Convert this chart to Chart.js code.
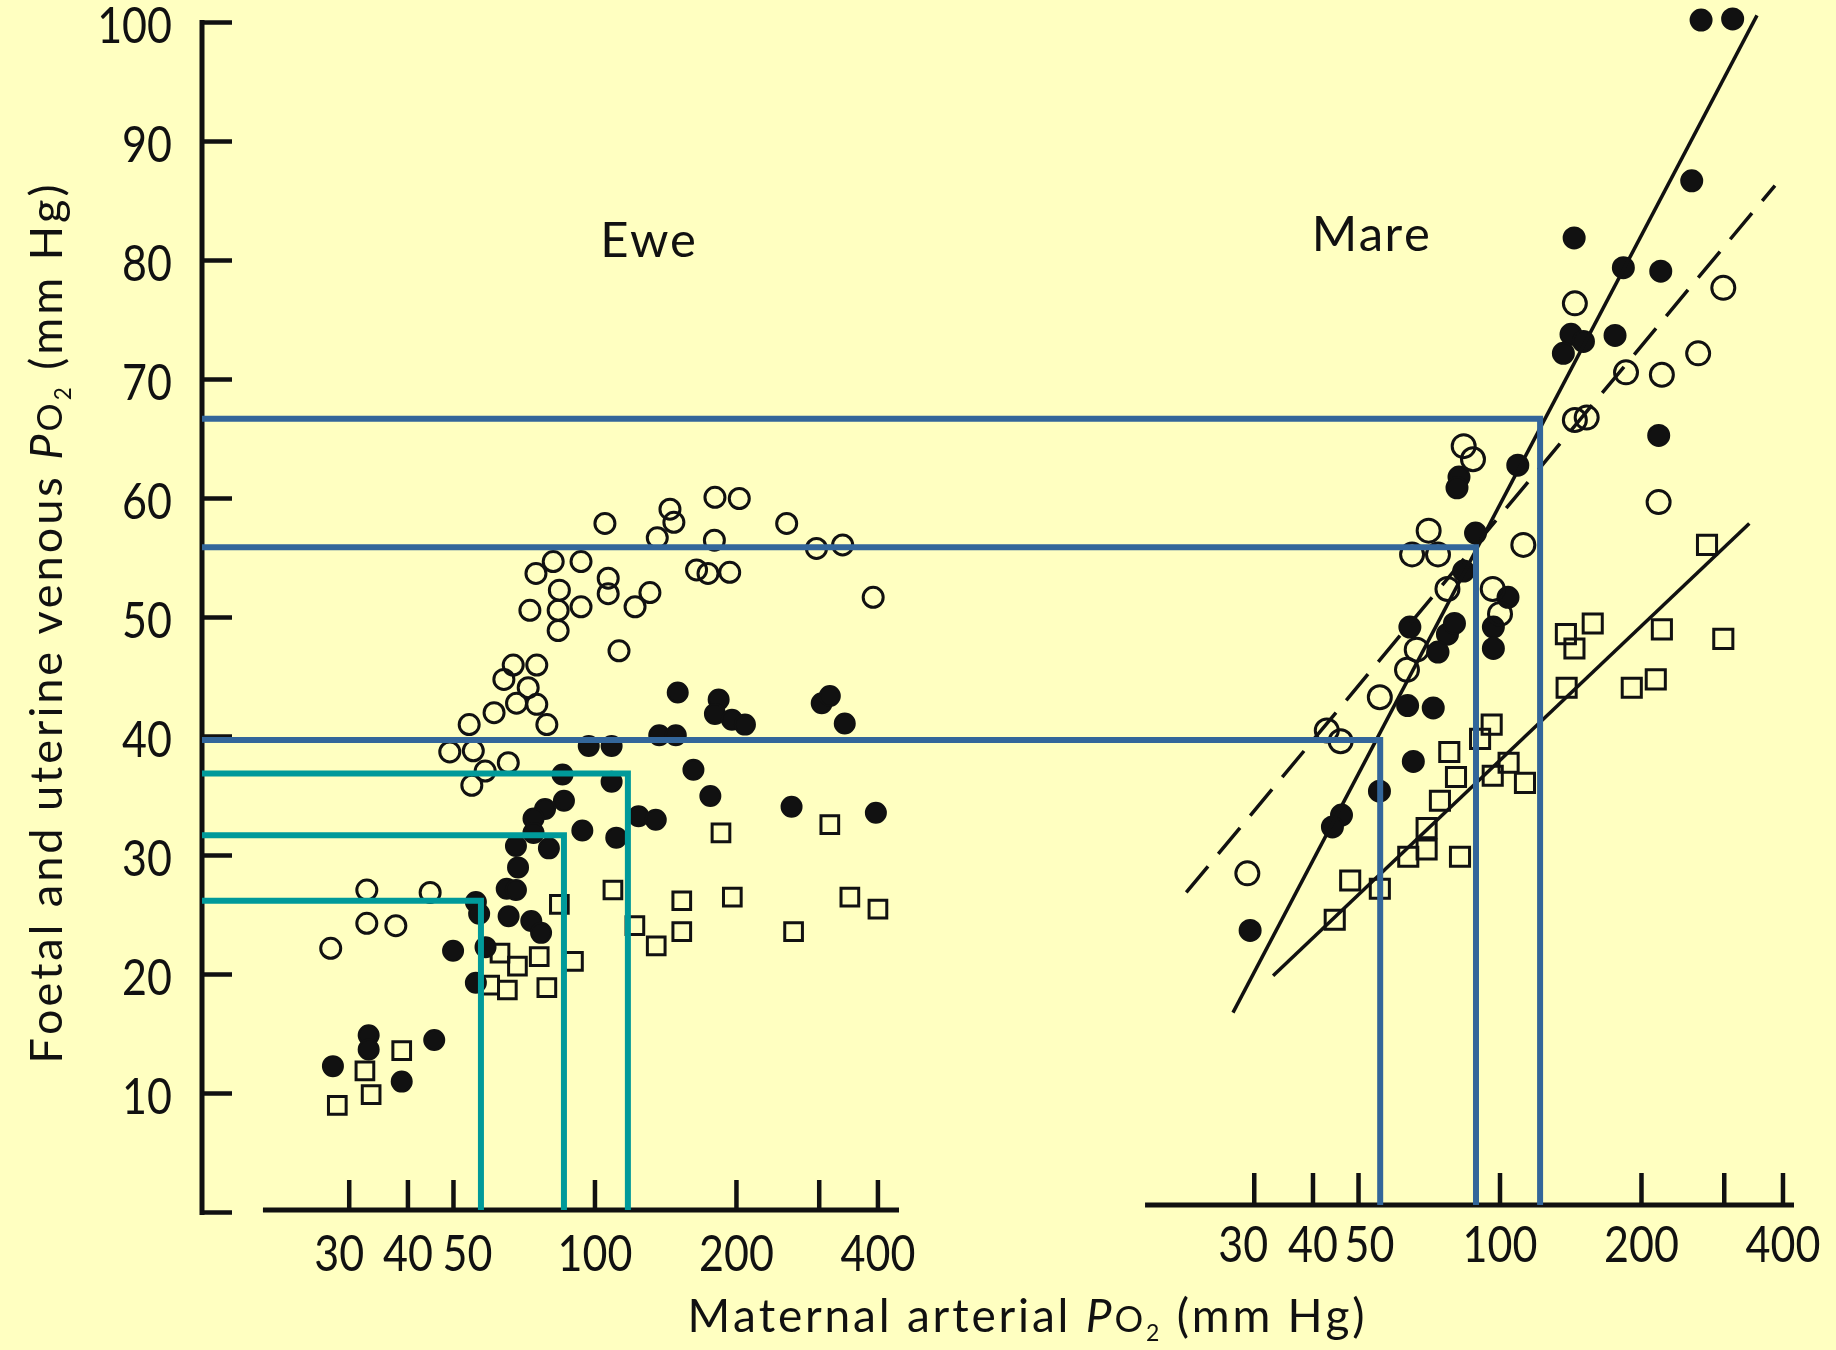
<!DOCTYPE html>
<html>
<head>
<meta charset="utf-8">
<script src="https://cdn.jsdelivr.net/npm/chart.js@4.4.1/dist/chart.umd.min.js"></script>
<style>
  html, body { margin: 0; padding: 0; background: #FFFFC1; }
  #wrap { width: 1836px; height: 1350px; }
  canvas { display: block; }
</style>
</head>
<body>
<div id="wrap"><canvas id="c" width="1836" height="1350"></canvas></div>
<script>
// ---------------- data ----------------
const yTickValues = [0, 10, 20, 30, 40, 50, 60, 70, 80, 90, 100];
const yTickLabels = ['', '10', '20', '30', '40', '50', '60', '70', '80', '90', '100'];
const xTickValues = [30, 40, 50, 100, 200, 300, 400];
const xTickLabels = ['30', '40', '50', '100', '200', '', '400'];

const panelTitles = ['Ewe', 'Mare'];
const xTitle = [['Maternal arterial ', 'n'], ['P', 'i'], ['O', 'o'], ['2', 'sub'], [' (mm Hg)', 'n']];
const yTitle = [['Foetal and uterine venous ', 'n'], ['P', 'i'], ['O', 'o'], ['2', 'sub'], [' (mm Hg)', 'n']];

// Ewe: open circles
const eweOpen = [
  [81.5,54.7],[93.4,54.7],[74.9,53.7],[84.0,52.3],[72.7,50.6],[83.5,50.6],[93.4,50.9],[83.5,48.9],
  [67.0,46.0],[75.2,46.0],[64.0,44.8],[72.1,44.1],[68.1,42.8],[75.2,42.7],[61.0,42.0],[54.0,41.0],
  [79.0,41.0],[49.1,38.7],[55.1,38.8],[65.4,37.8],[58.4,37.1],[54.7,35.9],
  [105,57.9],[144.4,59.1],[147.2,58.0],[135.7,56.7],[180,60.1],[202.8,60.0],[255.8,57.9],[179.5,56.5],
  [296,55.8],[336.5,56.1],[164.5,54.0],[174,53.7],[193.5,53.8],[106.7,53.3],[106.7,52.0],[130.9,52.1],
  [121.7,50.9],[390.8,51.7],[112.5,47.2],
  [32.7,27.1],[44.6,26.9],[32.7,24.3],[37.7,24.1],[27.4,22.2]
];
// Ewe: filled circles
const eweFilled = [
  [150,43.7],[183.3,43.1],[180,41.9],[195.6,41.4],[208.5,41.0],[303.7,42.8],[316,43.4],[340,41.1],
  [137,40.1],[148.6,40.1],[97,39.2],[108.5,39.2],[162,37.2],[85.3,36.8],[108.5,36.2],[176,35.0],
  [85.9,34.6],[78.3,33.9],[74,33.1],[123.8,33.3],[134.7,33.0],[262,34.1],[396,33.6],[94,32.1],
  [111,31.5],[74,31.9],[67.9,30.8],[79.8,30.6],[68.6,29.0],[64.9,27.2],[67.9,27.1],[55.8,26.1],
  [56.7,25.1],[65.5,24.9],[73.2,24.5],[76.8,23.5],[49.9,22.0],[58.5,22.3],[55.8,19.3],
  [33,14.9],[33,13.7],[27.7,12.3],[45.5,14.5],[38.8,11.0]
];
// Ewe: open squares
const eweSquares = [
  [185.4,31.9],[316,32.6],[400,25.5],[348.6,26.5],[264.6,23.6],[196,26.5],[153,26.2],[153,23.6],
  [135,22.4],[121.6,24.1],[109.2,27.1],[84,25.9],[90,21.1],[76.1,21.5],[68.4,20.7],[62.8,21.8],
  [59.7,19.1],[65.1,18.7],[79.0,18.9],[38.8,13.6],[32.4,11.9],[33.4,9.9],[28.3,9.0]
];
// Mare: filled circles
const mareFilled = [
  [267.8,100.2],[312.6,100.3],[255.8,86.7],[143.8,81.9],[183,79.4],[219.8,79.1],[141.6,73.8],
  [150.5,73.2],[136.4,72.2],[175.7,73.7],[217.6,65.3],[109.1,62.8],[81.8,61.8],[81.0,60.9],
  [88.7,57.1],[83.7,53.9],[104,51.7],[96.8,49.2],[96.8,47.4],[64.3,49.2],[77.3,48.6],[73.8,47.1],
  [80,49.5],[63.6,42.6],[72.1,42.4],[65.4,37.9],[55.4,35.4],[46,33.4],[44,32.4],[29.4,23.7]
];
// Mare: open circles
const mareOpen = [
  [144.3,76.4],[298.6,77.7],[264,72.2],[185.4,70.6],[221,70.4],[144.3,66.6],[152.9,66.8],[217.5,59.7],
  [112.1,56.1],[96.5,52.4],[100,50.3],[83.7,64.4],[87.6,63.3],[70.5,57.3],[65.0,55.3],[73.8,55.3],
  [77.3,52.4],[66.5,47.3],[63.4,45.6],[55.5,43.3],[42.8,40.5],[45.8,39.6],[29.0,28.5]
];
// Mare: open squares
const mareSquares = [
  [275.7,56.1],[221,49.0],[298.6,48.2],[138.1,48.6],[157.5,49.5],[144,47.4],[138.6,44.1],[190.7,44.1],
  [214.5,44.8],[96,41.0],[90.7,39.8],[78,38.7],[80.6,36.6],[96.5,36.7],[104.3,37.8],[113,36.1],
  [74.5,34.6],[69.8,32.3],[69.8,30.5],[63.8,29.9],[82.2,29.9],[48,27.9],[55.5,27.2],[44.5,24.6]
];
// Mare regression lines
const mareFilledFit = [[27.03,16.8],[352.2,100.6]];
const mareOpenFit = [[21.5,26.9],[384.6,86.3]];
const mareSquareFit = [[32.9,19.9],[339.2,57.9]];

// Guide lines (blue: mare panel, teal: ewe panel)
const blueGuideY = [66.7, 55.9, 39.7];
const blueGuideX = [121.7, 88.9, 55.6];
const tealGuideY = [36.9, 31.7, 26.2];
const tealGuideX = [117.5, 85.9, 57.2];

// ---------------- scale / style constants ----------------
const EWE_MIN = 14.585, EWE_MAX = 36636;
const MARE_MIN = 0.17309, MARE_MAX = 434.8;
const Y_MIN = 0, Y_MAX = 101.5;
const EWE_AXIS = { from: 19.66, to: 443.5, y: 0.21 };
const MARE_AXIS = { from: 17.57, to: 422.2, y: 0.63 };
const EWE_TITLE_POS = { x: 129.7, y: 80.3 };
const MARE_TITLE_POS = { x: 53.1, y: 80.8 };

const INK = '#111111';
const BG = '#FFFFC1';
const BLUE = '#33669A';
const TEAL = '#009A9A';
const FONT = 'Lato';
const TICK_FONT_PX = 50, TICK_SCALE_X = 0.86;
const Y_LABEL_DY = 4;
const EWE_NUDGE = { 30: -10, 50: 14 };
const MARE_NUDGE = { 30: -11, 50: 11 };

const pts = arr => arr.map(([x, y]) => ({ x, y }));

function scatterSet(data, xAxisID, style, radius, bw, filled) {
  return {
    type: 'scatter', data: pts(data), xAxisID, yAxisID: 'y', order: 2,
    pointStyle: style, pointRadius: radius, pointHoverRadius: radius, borderWidth: bw,
    borderColor: INK, backgroundColor: filled ? INK : 'rgba(0,0,0,0)',
    showLine: false, clip: false
  };
}
function lineSet(data, xAxisID, color, width, dash, order) {
  return {
    type: 'line', data: pts(data), xAxisID, yAxisID: 'y', order,
    borderColor: color, borderWidth: width, borderDash: dash || [],
    pointRadius: 0, pointHoverRadius: 0, tension: 0, fill: false, clip: false,
    borderJoinStyle: 'miter', borderCapStyle: 'butt'
  };
}

const datasets = [];
blueGuideY.forEach((gy, i) => {
  datasets.push(lineSet([[MARE_MIN, gy], [blueGuideX[i], gy], [blueGuideX[i], MARE_AXIS.y]], 'xm', BLUE, 6, null, 0));
});
tealGuideY.forEach((gy, i) => {
  datasets.push(lineSet([[EWE_MIN, gy], [tealGuideX[i], gy], [tealGuideX[i], EWE_AXIS.y]], 'xe', TEAL, 6, null, 0));
});
datasets.push(lineSet(mareFilledFit, 'xm', INK, 3.5, null, 1));
datasets.push(lineSet(mareOpenFit, 'xm', INK, 3.5, [34, 16], 1));
datasets.push(lineSet(mareSquareFit, 'xm', INK, 3.5, null, 1));
datasets.push(scatterSet(eweOpen, 'xe', 'circle', 10, 3, false));
datasets.push(scatterSet(eweFilled, 'xe', 'circle', 10, 2, true));
datasets.push(scatterSet(eweSquares, 'xe', 'rect', 12.5, 3, false));
datasets.push(scatterSet(mareOpen, 'xm', 'circle', 11.5, 3, false));
datasets.push(scatterSet(mareFilled, 'xm', 'circle', 10.5, 2, true));
datasets.push(scatterSet(mareSquares, 'xm', 'rect', 13.5, 3, false));

// draw text runs (with italic / small / subscript parts) centred on cx, with letter spacing
function drawRuns(ctx, runs, cx, baseY, size, spacing) {
  const glyphs = [];
  runs.forEach(([t, k]) => {
    let fs = size, dy = 0, st = '';
    if (k === 'i') st = 'italic ';
    if (k === 'o') fs = size * 0.78;
    if (k === 'sub') { fs = size * 0.5; dy = size * 0.2; }
    const font = st + fs + 'px ' + FONT;
    ctx.font = font;
    for (const ch of t) glyphs.push({ ch, font, dy, w: ctx.measureText(ch).width });
  });
  const total = glyphs.reduce((a, g) => a + g.w + spacing, 0) - spacing;
  let x = cx - total / 2;
  ctx.textAlign = 'left';
  ctx.textBaseline = 'alphabetic';
  glyphs.forEach(g => { ctx.font = g.font; ctx.fillText(g.ch, x, baseY + g.dy); x += g.w + spacing; });
}
function tickText(ctx, text, x, y, align) {
  ctx.save();
  ctx.translate(x, y);
  ctx.scale(TICK_SCALE_X, 1);
  ctx.font = TICK_FONT_PX + 'px ' + FONT;
  ctx.textAlign = align; ctx.textBaseline = 'middle';
  ctx.fillText(text, 0, 0);
  ctx.restore();
}

const bgPlugin = {
  id: 'bg',
  beforeDraw(chart) {
    const c = chart.ctx;
    c.save(); c.fillStyle = BG; c.fillRect(0, 0, chart.width, chart.height); c.restore();
  }
};

const axesPlugin = {
  id: 'axesDraw',
  beforeDatasetsDraw(chart) {
    const ctx = chart.ctx;
    const ys = chart.scales.y, xe = chart.scales.xe, xm = chart.scales.xm;
    const left = chart.chartArea.left;
    ctx.save();
    ctx.strokeStyle = INK; ctx.fillStyle = INK; ctx.lineCap = 'butt';
    // y axis
    ctx.lineWidth = 5;
    ctx.beginPath();
    ctx.moveTo(left, ys.getPixelForValue(100) - 2.5);
    ctx.lineTo(left, ys.getPixelForValue(0) + 2.5);
    ctx.stroke();
    ctx.lineWidth = 4.5;
    yTickValues.forEach((v, i) => {
      const py = ys.getPixelForValue(v);
      ctx.beginPath(); ctx.moveTo(left, py); ctx.lineTo(left + 30, py); ctx.stroke();
      if (yTickLabels[i]) tickText(ctx, yTickLabels[i], left - 30, py + Y_LABEL_DY, 'right');
    });
    // x axes
    const drawX = (sc, ax, tickLen, labelGap, nudge) => {
      const py = ys.getPixelForValue(ax.y);
      ctx.lineWidth = 5;
      ctx.beginPath(); ctx.moveTo(sc.getPixelForValue(ax.from), py); ctx.lineTo(sc.getPixelForValue(ax.to), py); ctx.stroke();
      ctx.lineWidth = 4.5;
      xTickValues.forEach((v, i) => {
        const px = sc.getPixelForValue(v);
        ctx.beginPath(); ctx.moveTo(px, py); ctx.lineTo(px, py - tickLen); ctx.stroke();
        if (xTickLabels[i]) tickText(ctx, xTickLabels[i], px + (nudge[v] || 0), py + labelGap, 'center');
      });
    };
    drawX(xe, EWE_AXIS, 30, 45, EWE_NUDGE);
    drawX(xm, MARE_AXIS, 32, 41, MARE_NUDGE);
    // panel titles
    drawRuns(ctx, [[panelTitles[0], 'n']], xe.getPixelForValue(EWE_TITLE_POS.x), ys.getPixelForValue(EWE_TITLE_POS.y), 49, 1.5);
    drawRuns(ctx, [[panelTitles[1], 'n']], xm.getPixelForValue(MARE_TITLE_POS.x), ys.getPixelForValue(MARE_TITLE_POS.y), 49, 1.5);
    // axis titles
    drawRuns(ctx, xTitle, 1026, 1332, 46, 2.8);
    ctx.translate(62, 624);
    ctx.rotate(-Math.PI / 2);
    drawRuns(ctx, yTitle, 0, 0, 45, 3);
    ctx.restore();
  }
};

new Chart(document.getElementById('c'), {
  type: 'scatter',
  data: { datasets },
  options: {
    responsive: false,
    animation: false,
    devicePixelRatio: 1,
    events: [],
    layout: { autoPadding: false, padding: { left: 202, right: 36, top: 4.65, bottom: 137.5 } },
    plugins: { legend: { display: false }, tooltip: { enabled: false } },
    scales: {
      y: { type: 'linear', min: Y_MIN, max: Y_MAX, display: false },
      xe: { type: 'logarithmic', axis: 'x', position: 'bottom', min: EWE_MIN, max: EWE_MAX, display: false },
      xm: { type: 'logarithmic', axis: 'x', position: 'bottom', min: MARE_MIN, max: MARE_MAX, display: false }
    }
  },
  plugins: [bgPlugin, axesPlugin]
});
</script>
</body>
</html>
